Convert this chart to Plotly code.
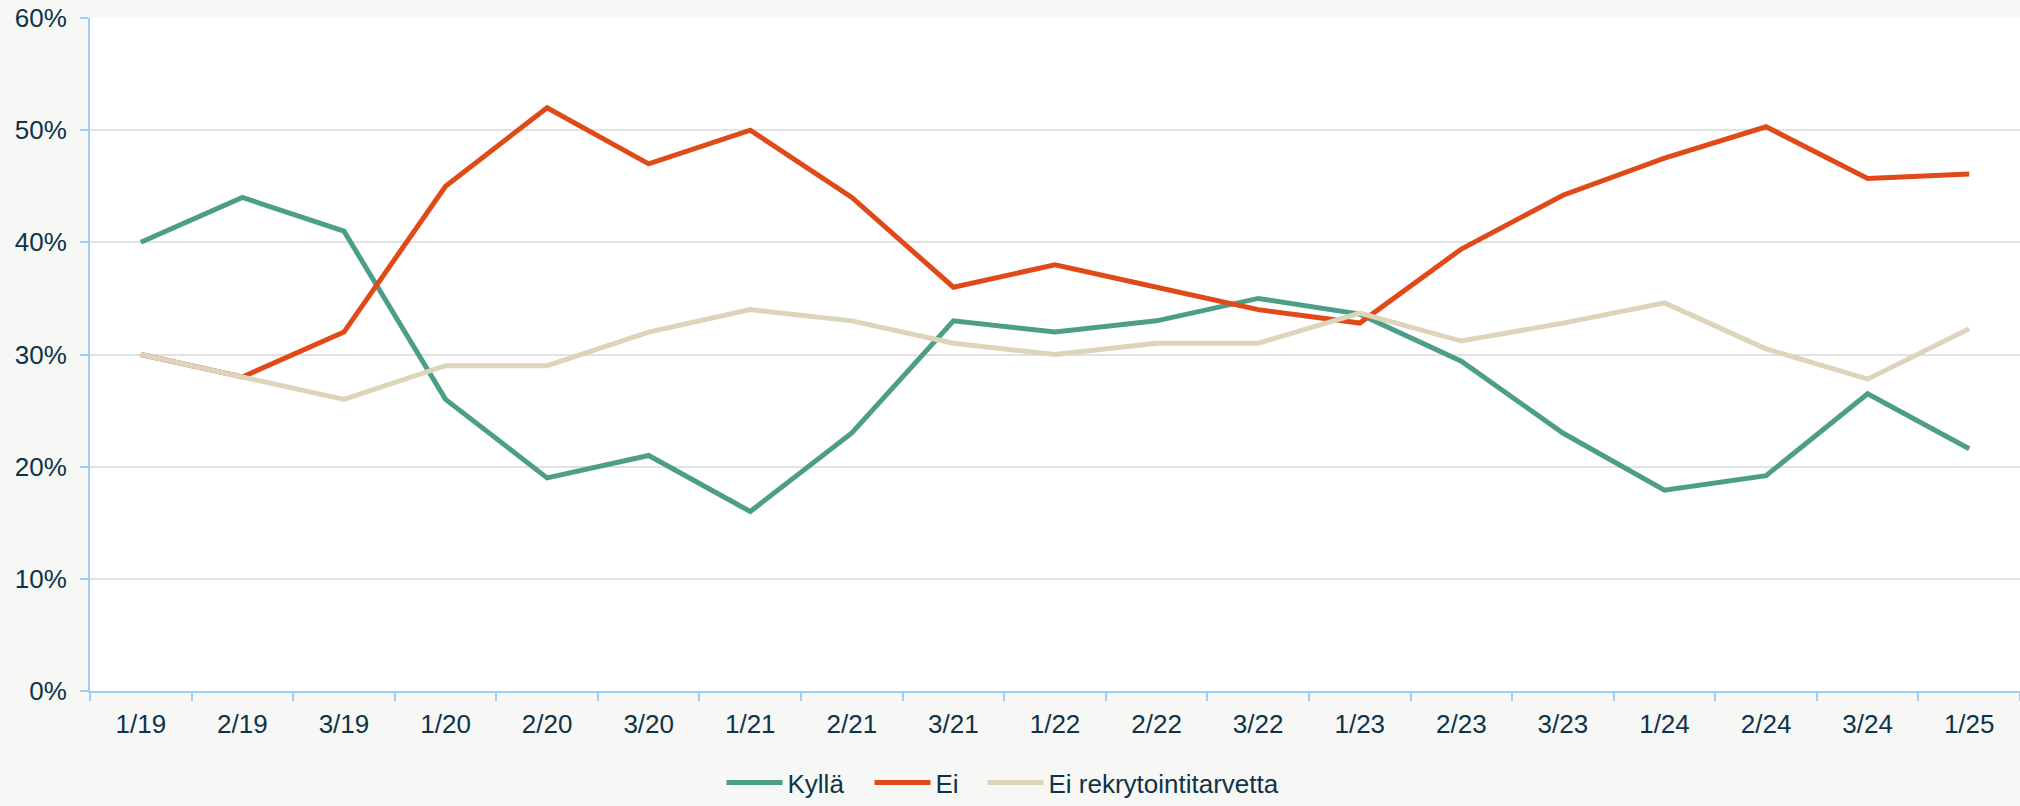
import plotly.graph_objects as go

categories = ["1/19", "2/19", "3/19", "1/20", "2/20", "3/20", "1/21", "2/21", "3/21",
              "1/22", "2/22", "3/22", "1/23", "2/23", "3/23", "1/24", "2/24", "3/24", "1/25"]

kylla = [40, 44, 41, 26, 19, 21, 16, 23, 33, 32, 33, 35, 33.6, 29.4, 23.0, 17.9, 19.2, 26.5, 21.6]
ei = [30, 28, 32, 45, 52, 47, 50, 44, 36, 38, 36, 34, 32.8, 39.4, 44.2, 47.5, 50.3, 45.7, 46.1]
ei_rekry = [30, 28, 26, 29, 29, 32, 34, 33, 31, 30, 31, 31, 33.7, 31.2, 32.8, 34.6, 30.5, 27.8, 32.3]

series_names = ["Kyllä", "Ei", "Ei rekrytointitarvetta"]
series_colors = ["#4C9E88", "#E04A18", "#DDD4BC"]
series_values = [kylla, ei, ei_rekry]
legend_ids = ["legend", "legend2", "legend3"]
legend_x = [0.3272, 0.4039, 0.4624]

text_color = "#0E3349"
axis_color = "#9FCFF3"

fig = go.Figure()
for name, vals, col, lg in zip(series_names, series_values, series_colors, legend_ids):
    fig.add_trace(go.Scatter(
        x=categories, y=vals, name=name, mode="lines",
        line=dict(color=col, width=5), legend=lg,
    ))

legend_style = dict(
    orientation="h", xanchor="left", y=-0.1709, yanchor="bottom",
    font=dict(family="Liberation Sans, Arial", size=26, color=text_color),
    itemwidth=56, bgcolor="rgba(0,0,0,0)", borderwidth=0,
)

fig.update_layout(
    width=2020, height=806,
    margin=dict(l=90, r=0, t=18, b=115, autoexpand=False),
    paper_bgcolor="#F7F7F5",
    plot_bgcolor="#FFFFFF",
    font=dict(family="Liberation Sans, Arial, sans-serif", size=26, color=text_color),
    showlegend=True,
    legend=dict(x=legend_x[0], **legend_style),
    legend2=dict(x=legend_x[1], **legend_style),
    legend3=dict(x=legend_x[2], **legend_style),
    xaxis=dict(
        type="category", range=[-0.5, 18.5], automargin=False,
        showgrid=False, showline=True, linecolor=axis_color, linewidth=2,
        ticks="outside", tickson="boundaries", ticklen=8, tickcolor=axis_color, tickwidth=2,
        tickfont=dict(size=26, color=text_color),
        ticklabelstandoff=9,
    ),
    yaxis=dict(
        range=[0, 60], dtick=10, ticksuffix="%", automargin=False,
        showgrid=True, gridcolor="#E2E2E2", gridwidth=1.5,
        zeroline=False,
        showline=True, linecolor=axis_color, linewidth=2,
        ticks="outside", ticklen=8, tickcolor=axis_color, tickwidth=2,
        tickfont=dict(size=26, color=text_color),
        ticklabelstandoff=8,
    ),
)

fig.write_html(
    "out.html",
    config={"displayModeBar": False},
    post_script="document.body.style.margin='0px';document.body.style.overflow='hidden';",
)
